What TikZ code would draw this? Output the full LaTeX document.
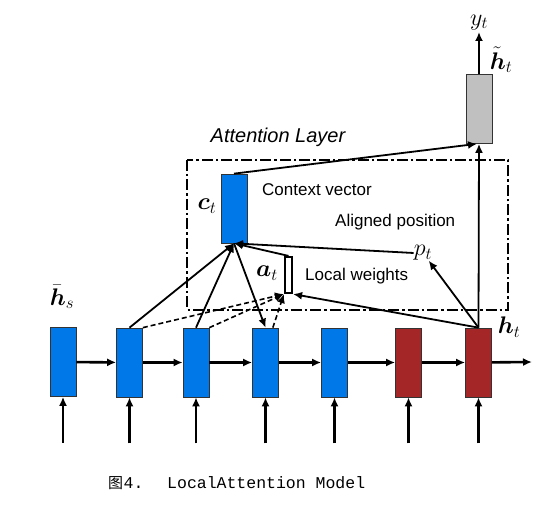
\RequirePackage{fix-cm}
\documentclass[tikz,border=0pt]{standalone}
\usepackage{amsmath}
\usepackage{bm}
\usepackage{fontspec}
\setsansfont{Liberation Sans}
\newfontfamily\cjkfont{Noto Sans CJK SC}
\newfontfamily\capfont{Liberation Mono}
\usetikzlibrary{arrows.meta}

\definecolor{encblue}{RGB}{0,120,232}
\definecolor{decred}{RGB}{165,38,38}
\definecolor{outgray}{RGB}{192,192,192}

\tikzstyle{state}=[draw=black!80, line width=0.7pt, minimum width=26pt, minimum height=69pt, inner sep=0pt]
\tikzstyle{arrow}=[line width=1.8pt, -{Latex[length=9pt, width=8pt]}]
\tikzstyle{dasharrow}=[line width=1.6pt, dash pattern=on 5pt off 3pt, -{Latex[length=9pt, width=8pt]}]
\tikzstyle{mathlabel}=[inner sep=0pt, font=\fontsize{24}{26}\selectfont]
\tikzstyle{txt}=[anchor=west, inner sep=0pt, font=\sffamily\fontsize{17}{19}\selectfont]

\begin{document}
\begin{tikzpicture}[x=1pt, y=-1pt]
      \useasboundingbox (0,0) rectangle (558,508);

      % encoder / decoder states
      \node[state, fill=encblue] (h1) at (63, 362) {};
      \node[state, fill=encblue] (h2) at (129.5, 362.5) {};
      \node[state, fill=encblue] (h3) at (196, 362.5) {};
      \node[state, fill=encblue] (h4) at (265.5, 362.5) {};
      \node[state, fill=encblue] (h5) at (334.5, 362.5) {};
      \node[state, fill=decred] (h6) at (408.5, 362.5) {};
      \node[state, fill=decred] (h7) at (478.5, 362.5) {};
      \node[state, fill=encblue] (c) at (234, 208.5) {};
      \node[state, fill=outgray] (g) at (479, 109) {};
      \node[draw, line width=2.2pt, minimum width=7pt, minimum height=36pt, inner sep=0pt] (bar) at (288.5, 275) {};

      \coordinate (end) at (532, 362);
      \coordinate (y) at (479, 32);

      % attention layer box
      \draw[line width=2.4pt, dash pattern=on 11pt off 3pt on 2.5pt off 3pt] (187,160) rectangle (508,310);

      % labels
      \node[mathlabel] (hs) at (62, 297) {$\bar{\bm{h}}_s$};
      \node[mathlabel] (ht) at (509, 327) {$\bm{h}_t$};
      \node[mathlabel] (ct) at (207, 206) {$\bm{c}_t$};
      \node[mathlabel] (at) at (267, 273) {$\bm{a}_t$};
      \node[mathlabel] (p) at (423, 253) {$p_t$};
      \node[mathlabel, above=2pt] (yt) at (y) {$y_t$};
      \node[mathlabel] (tht) at (501, 60) {$\tilde{\bm{h}}_t$};
      \node[anchor=center, inner sep=0pt, font=\sffamily\itshape\fontsize{20}{22}\selectfont] (title) at (278, 137) {Attention Layer};
      \node[txt] (ctx) at (262, 190) {Context vector};
      \node[txt] (align) at (335, 222) {Aligned position};
      \node[txt] (lw) at (305, 276) {Local weights};

      % recurrent chain
      \foreach \a/\b in {h1/h2, h2/h3, h3/h4, h4/h5, h5/h6, h6/h7}
        \draw[arrow, line width=2.6pt] (\a) -- (\b);
      \draw[arrow, line width=2.6pt] (h7) -- (end);

      % inputs
      \foreach \n in {1,...,7} {
        \path (h\n.south) ++(0,46) coordinate (in\n);
        \draw[arrow, line width=2.2pt] (in\n) -- (h\n.south);
      }

      % attention
      \draw[arrow] (h2.north) -- (c.south);
      \draw[arrow] (h3.north) -- (c.south);
      \draw[arrow] (c.south) -- (h4.north);
      \draw[arrow] (bar.north) -- (c.south);
      \draw[arrow] (p.west) -- (c.south);
      \draw[arrow] (h7.north) -- (p);
      \draw[arrow] (h7.north) -- (bar.south east);
      \draw[dasharrow] (h2.north east) -- (bar.south west);
      \draw[dasharrow] (h3.north east) -- (bar.south west);
      \draw[dasharrow] ([xshift=-6pt]h4.north east) -- (bar.south west);

      % output
      \draw[arrow] (c.north) -- ([xshift=-2pt]g.south);
      \draw[arrow] (h7.north) -- (g.south);
      \draw[arrow] (g.north) -- (y);

      % caption
      \node[anchor=west, inner sep=0pt, font=\cjkfont\fontsize{15}{17}\selectfont] (fig) at (108, 483) {图};
      \node[anchor=west, inner sep=0pt, font=\capfont\fontsize{16.5}{18}\selectfont] (num) at (fig.east) {4.};
      \node[anchor=west, inner sep=0pt, font=\capfont\fontsize{16.5}{18}\selectfont] (cap) at (167, 483) {LocalAttention Model};
    \end{tikzpicture}
\end{document}
